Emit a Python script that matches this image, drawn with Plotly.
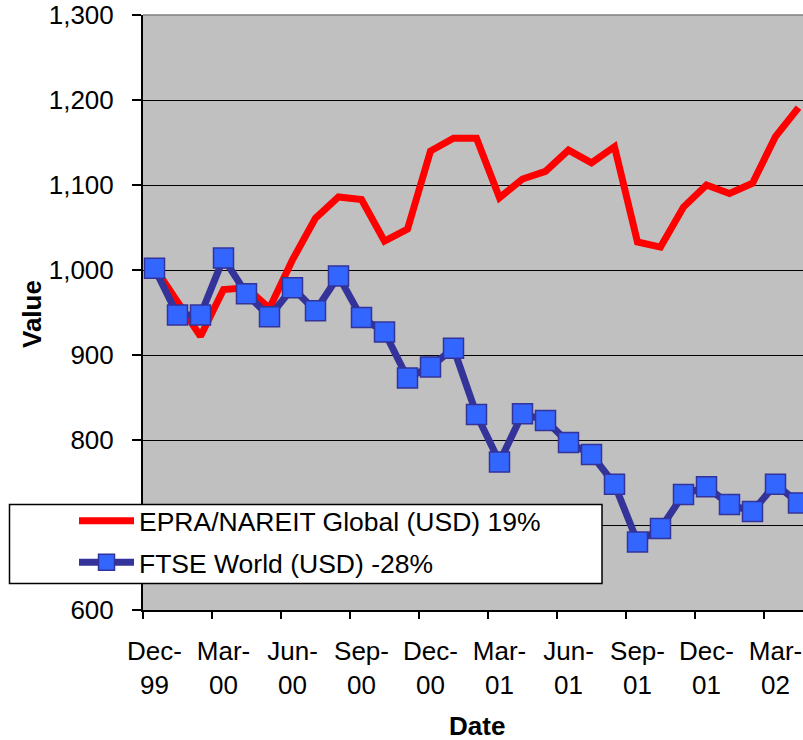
import plotly.graph_objects as go

months = ["Dec-99", "Jan-00", "Feb-00", "Mar-00", "Apr-00", "May-00", "Jun-00", "Jul-00",
          "Aug-00", "Sep-00", "Oct-00", "Nov-00", "Dec-00", "Jan-01", "Feb-01", "Mar-01",
          "Apr-01", "May-01", "Jun-01", "Jul-01", "Aug-01", "Sep-01", "Oct-01", "Nov-01",
          "Dec-01", "Jan-02", "Feb-02", "Mar-02", "Apr-02"]

epra = [1003, 962, 922, 977, 979, 955, 1012, 1061, 1086, 1083, 1034, 1048, 1140, 1155,
        1155, 1085, 1107, 1116, 1141, 1126, 1145, 1033, 1027, 1074, 1100, 1090, 1102,
        1157, 1191]
ftse = [1002, 947, 947, 1014, 972, 945, 979, 952, 993, 944, 927, 873, 886, 908, 830,
        774, 831, 823, 797, 783, 748, 680, 696, 736, 745, 724, 716, 748, 726]

series_names = ["EPRA/NAREIT Global (USD) 19%", "FTSE World (USD) -28%"]
y_ticks = [600, 700, 800, 900, 1000, 1100, 1200, 1300]
label_step = 3

FONT = "Liberation Sans, Arial, Helvetica, sans-serif"
W, H = 803, 740
L, T = 143, 15
PB = 610                  # plot bottom in px
B = H - PB
PW = W - L
PH = PB - T

x = list(range(len(months)))
label_idx = list(range(0, len(months), label_step))
label_txt = [months[i].replace("-", "-<br>") for i in label_idx]
minor_vals = [i - 0.5 for i in label_idx]

fig = go.Figure()
fig.add_trace(go.Scatter(
    x=x, y=epra, name=series_names[0], mode="lines",
    line=dict(color="#FF0000", width=7),
    legendgroup="a",
))
fig.add_trace(go.Scatter(
    x=x, y=ftse, name=series_names[1], mode="lines+markers",
    line=dict(color="#333399", width=7),
    marker=dict(symbol="square", size=20, color="#3366FF",
                line=dict(color="#333399", width=1.5)),
    legendgroup="b",
))


def px_x(p):
    return (p - L) / PW


def px_y(p):
    return (PB - p) / PH


# legend frame
fig.add_shape(type="rect", xref="paper", yref="paper",
              x0=px_x(9.5), x1=px_x(602), y0=px_y(583.5), y1=px_y(504.5),
              fillcolor="white", line=dict(color="black", width=1.5), layer="above")
# plot-area top border
fig.add_shape(type="line", xref="paper", yref="paper", x0=0, x1=1, y0=1, y1=1,
              line=dict(color="#808080", width=1.5), layer="above")

# axis titles
fig.add_annotation(text="<b>Value</b>", xref="paper", yref="paper",
                   x=px_x(32), y=px_y(314), textangle=-90, showarrow=False,
                   xanchor="center", yanchor="middle",
                   font=dict(family=FONT, size=26, color="black"))
fig.add_annotation(text="<b>Date</b>", xref="paper", yref="paper",
                   x=px_x(477), y=px_y(725.5), showarrow=False, borderpad=0,
                   xanchor="center", yanchor="middle",
                   font=dict(family=FONT, size=26, color="black"))

fig.update_layout(
    width=W, height=H,
    margin=dict(l=L, r=0, t=T, b=B, autoexpand=False),
    paper_bgcolor="white",
    plot_bgcolor="#C0C0C0",
    font=dict(family=FONT, size=26, color="black"),
    showlegend=True,
    legend=dict(
        xref="container", yref="container",
        x=74 / W, y=1 - 497 / H, xanchor="left", yanchor="top",
        bgcolor="rgba(0,0,0,0)", borderwidth=0,
        font=dict(family=FONT, size=26.5, color="black"),
        itemwidth=55, tracegroupgap=4, traceorder="grouped",
    ),
    xaxis=dict(
        range=[-0.5, -0.5 + PW / 23.0],
        tickmode="array", tickvals=label_idx, ticktext=label_txt,
        tickangle=0,
        ticks="", showgrid=False, zeroline=False,
        showline=True, linecolor="black", linewidth=2,
        tickfont=dict(family=FONT, size=26),
        ticklabelstandoff=17,
        minor=dict(tickmode="array", tickvals=minor_vals, ticks="outside",
                   ticklen=7, tickwidth=1.5, tickcolor="black", showgrid=False),
    ),
    yaxis=dict(
        range=[600, 1300],
        tickmode="array", tickvals=y_ticks, tickformat=",d",
        ticks="outside", ticklen=9, tickwidth=1.5, tickcolor="black",
        showgrid=True, gridcolor="black", gridwidth=1,
        zeroline=False, showline=True, linecolor="black", linewidth=2,
        tickfont=dict(family=FONT, size=26),
        ticklabelstandoff=13,
    ),
)

fig.write_html("out.html", config={"displayModeBar": False},
               post_script="document.body.style.margin='0';")
